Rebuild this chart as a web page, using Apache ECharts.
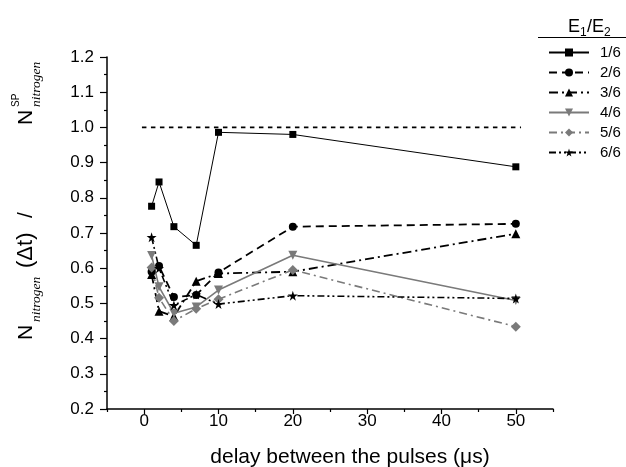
<!DOCTYPE html>
<html>
<head>
<meta charset="utf-8">
<script src="https://cdn.jsdelivr.net/npm/echarts@6/dist/echarts.min.js"></script>
<style>
html,body{margin:0;padding:0;background:#fff;}
#chart{width:626px;height:467px;}
</style>
</head>
<body>
<div id="chart"></div>
<script>
// ---- data ----
const delays = [1, 2, 4, 7, 10, 20, 50];
const ratio16 = [0.776, 0.845, 0.718, 0.665, 0.986, 0.980, 0.888];
const ratio26 = [0.590, 0.606, 0.518, 0.524, 0.588, 0.718, 0.726];
const ratio36 = [0.582, 0.478, 0.463, 0.563, 0.585, 0.590, 0.698];
const ratio46 = [0.636, 0.547, 0.472, 0.490, 0.538, 0.637, 0.508];
const ratio56 = [0.602, 0.516, 0.450, 0.485, 0.512, 0.595, 0.434];
const ratio66 = [0.688, 0.600, 0.495, 0.525, 0.498, 0.522, 0.514];
const seriesNames = ['1/6', '2/6', '3/6', '4/6', '5/6', '6/6'];
const refLineX = [-0.3, 50.7];
const refLineY = [1.0, 1.0];
const xMajorTicks = [0, 10, 20, 30, 40, 50];
const xMinorTicks = [-5, 5, 15, 25, 35, 45, 55];

const FONT = '"Liberation Sans", Arial, sans-serif';
const SERIF = '"Liberation Serif", "Times New Roman", serif';
const GRAY = '#7a7a7a';
const STAR = 'path://M50,0 L61,35 L98,35 L68,57 L79,91 L50,70 L21,91 L32,57 L2,35 L39,35 Z';

function pts(ys) { return delays.map((x, i) => [x, ys[i]]); }

const styles = [
  { data: ratio16, color: '#000', symbol: 'rect', size: 7, rot: 0, line: 'solid', w: 1 },
  { data: ratio26, color: '#000', symbol: 'circle', size: 8, rot: 0, line: [8, 5], w: 1.8 },
  { data: ratio36, color: '#000', symbol: 'triangle', size: 9, rot: 0, line: [9, 4, 2, 4], w: 1.8 },
  { data: ratio46, color: GRAY, symbol: 'triangle', size: 9, rot: 180, line: 'solid', w: 1.6 },
  { data: ratio56, color: GRAY, symbol: 'diamond', size: 10, rot: 0, line: [8, 4, 2, 4], w: 1.6 },
  { data: ratio66, color: '#000', symbol: STAR, size: 10, rot: 0, line: [7, 3, 2, 3, 2, 3], w: 1.6 }
];

const series = styles.map((s, i) => ({
  name: seriesNames[i],
  type: 'line',
  data: pts(s.data),
  symbol: s.symbol,
  symbolSize: s.size,
  symbolRotate: s.rot,
  showAllSymbol: true,
  itemStyle: { color: s.color },
  lineStyle: { color: s.color, width: s.w, type: s.line },
  z: 3
}));

series.push({
  name: 'ref',
  type: 'line',
  data: refLineX.map((x, i) => [x, refLineY[i]]),
  symbol: 'none',
  lineStyle: { color: '#000', width: 1.8, type: [4.5, 4.5] },
  z: 2,
  silent: true
});

const chart = echarts.init(document.getElementById('chart'), null, { renderer: 'canvas' });

const yNameParts = [
  { t: 'N', x: 26, y: 340, f: '21px ' + FONT },
  { t: 'nitrogen', x: 36.5, y: 322, f: 'italic 13.5px ' + SERIF },
  { t: '(\u0394t)', x: 26, y: 268, f: '22px ' + FONT },
  { t: '/', x: 26, y: 218, f: '21px ' + FONT },
  { t: 'N', x: 26, y: 125, f: '21px ' + FONT },
  { t: 'SP', x: 16.5, y: 107, f: '10px ' + FONT },
  { t: 'nitrogen', x: 36.5, y: 107, f: 'italic 13.5px ' + SERIF }
];

const graphics = yNameParts.map(p => ({
  type: 'text',
  x: p.x, y: p.y,
  rotation: Math.PI / 2,
  style: { text: p.t, font: p.f, fill: '#000', align: 'left', verticalAlign: 'middle' }
}));

// legend title E1/E2
const titleParts = [
  { t: 'E', x: 568, y: 27, f: '18px ' + FONT },
  { t: '1', x: 580, y: 33, f: '12px ' + FONT },
  { t: '/E', x: 587, y: 27, f: '18px ' + FONT },
  { t: '2', x: 604, y: 33, f: '12px ' + FONT }
];
titleParts.forEach(p => graphics.push({
  type: 'text', x: p.x, y: p.y,
  style: { text: p.t, font: p.f, fill: '#000', align: 'left', verticalAlign: 'middle' }
}));

graphics.push({
  type: 'text', x: 350, y: 457,
  style: { text: 'delay between the pulses (\u03bcs)', font: '21px ' + FONT, fill: '#000', align: 'center', verticalAlign: 'middle' }
});
graphics.push({
  type: 'line',
  shape: { x1: 538, y1: 37.5, x2: 626, y2: 37.5 },
  style: { stroke: '#000', lineWidth: 1.2 }
});

chart.setOption({
  animation: false,
  backgroundColor: '#fff',
  grid: { left: 107, right: 73, top: 57, bottom: 58, containLabel: false },
  legend: {
    data: seriesNames,
    orient: 'vertical',
    left: 543,
    top: 40,
    itemWidth: 40,
    itemHeight: 10,
    itemGap: 5,
    textStyle: { fontFamily: FONT, fontSize: 15, color: '#000', padding: [0, 0, 0, 6] }
  },
  xAxis: [{
    type: 'value',
    position: 'bottom',
    min: -5, max: 55,
    axisLine: { show: true, onZero: false, lineStyle: { color: '#000', width: 1.5 } },
    axisTick: { show: true, customValues: xMajorTicks, length: 5, lineStyle: { color: '#000', width: 1.2 } },
    axisLabel: { show: true, customValues: xMajorTicks, fontFamily: FONT, fontSize: 17, color: '#000', margin: 4 },
    splitLine: { show: false }
  }, {
    type: 'value',
    position: 'bottom',
    min: -5, max: 55,
    axisLine: { show: false, onZero: false },
    axisTick: { show: true, customValues: xMinorTicks, length: 3, lineStyle: { color: '#000', width: 1.2 } },
    axisLabel: { show: false },
    splitLine: { show: false }
  }],
  yAxis: {
    type: 'value',
    min: 0.2, max: 1.2, interval: 0.1,
    axisLine: { show: true, onZero: false, lineStyle: { color: '#000', width: 1.5 } },
    axisTick: { show: true, length: 7, lineStyle: { color: '#000', width: 1.2 } },
    minorTick: { show: true, splitNumber: 2, length: 3, lineStyle: { color: '#000', width: 1.2 } },
    axisLabel: { fontFamily: FONT, fontSize: 17, color: '#000', margin: 13, formatter: v => v.toFixed(1) },
    splitLine: { show: false }
  },
  graphic: graphics,
  series: series
});
</script>
</body>
</html>
